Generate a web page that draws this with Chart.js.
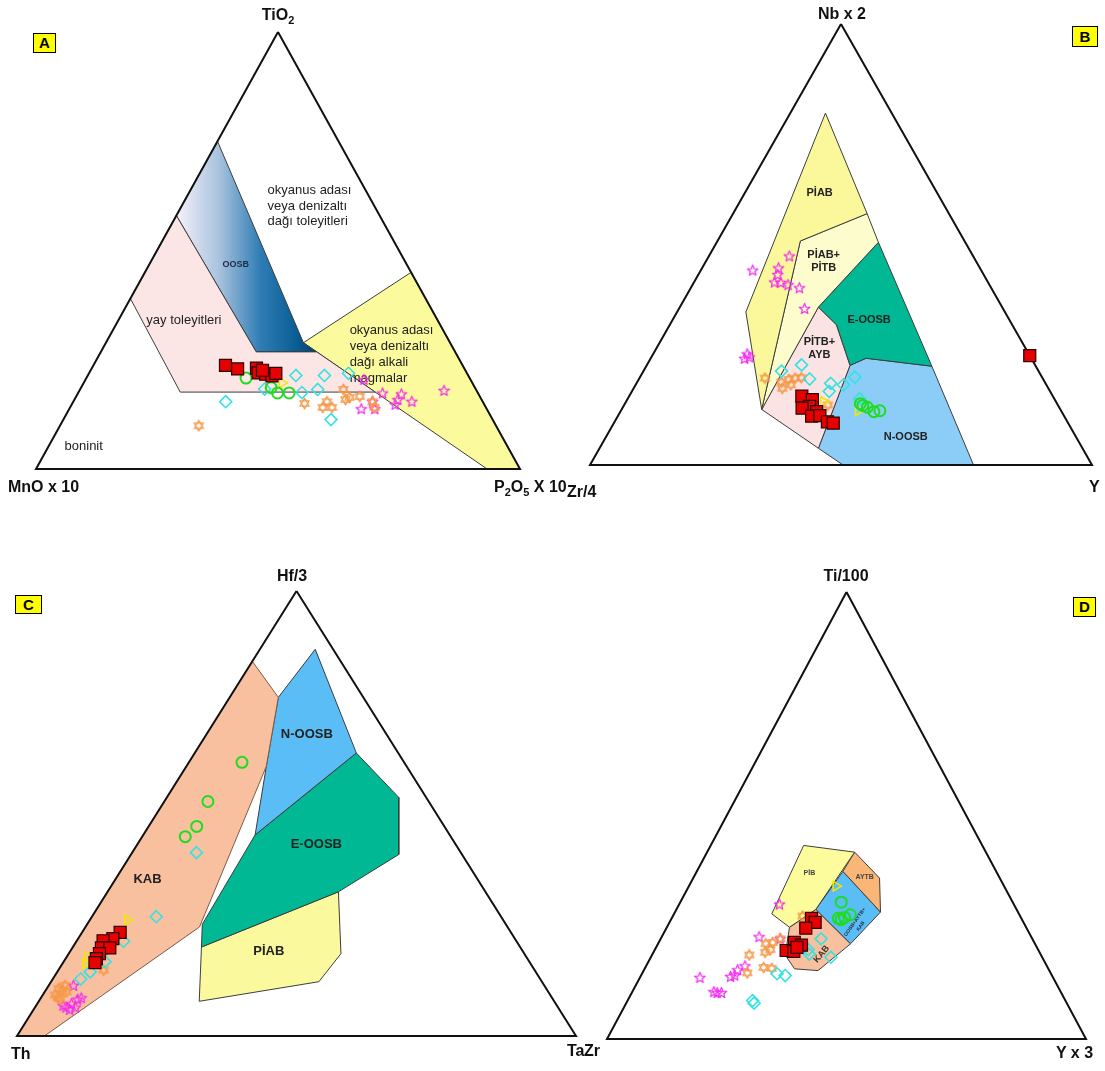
<!DOCTYPE html>
<html>
<head>
<meta charset="utf-8">
<script src="https://cdn.jsdelivr.net/npm/chart.js@4.4.0/dist/chart.umd.min.js"></script>
<style>
  body { margin: 0; background: #fff; width: 1105px; height: 1071px; position: relative; overflow: hidden;
         font-family: "Liberation Sans", Arial, sans-serif; }
  canvas { position: absolute; }
  .vlabel { position: absolute; font-weight: bold; font-size: 16px; color: #111; white-space: nowrap; line-height: 1; }
  .vlabel sub { font-size: 11px; vertical-align: -4px; line-height: 0; }
  .tag { position: absolute; background: #ffff00; border: 1px solid #000; font-weight: bold; font-size: 15px;
         text-align: center; box-sizing: border-box; color: #000; }
</style>
</head>
<body>
<canvas id="chartA"></canvas>
<canvas id="chartB"></canvas>
<canvas id="chartC"></canvas>
<canvas id="chartD"></canvas>

<div class="vlabel" style="left:278px;top:7px;transform:translateX(-50%)">TiO<sub>2</sub></div>
<div class="vlabel" style="left:8px;top:479px">MnO x 10</div>
<div class="vlabel" style="left:494px;top:479px">P<sub>2</sub>O<sub>5</sub> X 10</div>
<div class="vlabel" style="left:842px;top:6px;transform:translateX(-50%)">Nb x 2</div>
<div class="vlabel" style="left:567px;top:484px">Zr/4</div>
<div class="vlabel" style="left:1089px;top:479px">Y</div>
<div class="vlabel" style="left:292px;top:568px;transform:translateX(-50%)">Hf/3</div>
<div class="vlabel" style="left:11px;top:1046px">Th</div>
<div class="vlabel" style="left:567px;top:1043px">Ta</div>
<div class="vlabel" style="left:584px;top:1043px">Zr</div>
<div class="vlabel" style="left:846px;top:568px;transform:translateX(-50%)">Ti/100</div>
<div class="vlabel" style="left:1056px;top:1045px">Y x 3</div>

<div class="tag" style="left:33px;top:33px;width:23px;height:20px;line-height:18px">A</div>
<div class="tag" style="left:1072px;top:26px;width:26px;height:21px;line-height:19px">B</div>
<div class="tag" style="left:15px;top:595px;width:27px;height:19px;line-height:17px">C</div>
<div class="tag" style="left:1073px;top:597px;width:23px;height:20px;line-height:18px">D</div>

<script>
// Every composition is [top %, right %]; the left apex takes the remainder.

// A: TiO2 - MnO x 10 - P2O5 x 10
const aRed = [[23.7, 27.3], [22.9, 30.2], [23.1, 34.0], [22.0, 34.9], [21.7, 36.6], [21.3, 38.1], [21.9, 38.6], [22.6, 35.5]];
const aGreen = [[20.8, 33.0], [18.6, 39.3], [17.4, 41.2], [17.4, 43.6]];
const aYellow = [[19.7, 41.0]];
const aCyan = [[15.4, 31.5], [21.4, 43.0], [21.4, 48.9], [21.9, 53.6], [18.3, 38.1], [17.5, 46.2], [18.2, 49.1], [11.3, 55.3]];
const aOrange = [[9.9, 28.7], [15.0, 48.0], [14.1, 52.2], [14.1, 54.1], [15.4, 52.4], [18.2, 54.4], [15.9, 56.0], [16.4, 56.6], [16.6, 58.6], [15.4, 61.8], [14.1, 62.9]];
const aMagenta = [[13.8, 60.3], [13.8, 63.1], [15.5, 61.8], [17.4, 62.9], [14.8, 66.8], [15.9, 66.8], [17.2, 66.9], [15.5, 69.9], [18.0, 75.3], [20.5, 57.5]];
const aArcField = [[58, 0], [39, 0], [17.6, 21.0], [17.6, 61.3], [26.8, 44.6], [26.8, 32.1]];
const aOosbField = [[75, 0], [58, 0], [26.8, 32.1], [26.8, 44.6], [28.9, 40.8]];
const aAlkaliField = [[28.9, 40.8], [45, 55], [0, 100], [0, 93.2]];

// B: Nb x 2 - Zr/4 - Y
const bRed = [[15.6, 34.4], [14.8, 36.9], [13.3, 37.1], [12.9, 35.8], [12.1, 39.1], [11.1, 38.6], [11.2, 40.2], [9.8, 42.4], [9.5, 43.7], [24.8, 75.2]];
const bGreen = [[13.5, 47.6], [13.1, 48.7], [12.1, 50.5], [12.3, 51.6], [13.9, 46.9]];
const bYellow = [[12.3, 47.3], [14.4, 39.3]];
const bCyan = [[21.3, 27.5], [22.7, 30.8], [19.5, 34.0], [18.5, 38.7], [16.7, 39.3], [18.2, 41.4], [19.9, 42.8], [15.0, 46.2]];
const bOrange = [[19.7, 25.0], [18.8, 28.7], [19.4, 29.9], [19.7, 31.0], [19.8, 32.2], [17.4, 29.6], [18.2, 30.9], [13.6, 40.6]];
const bMagenta = [[47.4, 16.0], [44.2, 10.3], [44.7, 15.2], [43.2, 15.8], [41.5, 16.0], [41.4, 17.3], [40.9, 19.0], [40.2, 21.6], [35.5, 25.0], [25.2, 18.7], [24.2, 18.7], [24.5, 19.5]];
const bPiabField = [[79.8, 7.0], [57.0, 26.7], [50.8, 16.5], [12.6, 27.9], [34.7, 13.7]];
const bPiabPitbField = [[50.8, 16.5], [57.0, 26.7], [50.5, 32.2], [35.8, 27.6], [12.6, 27.9]];
const bEoosbField = [[35.8, 27.6], [50.5, 32.2], [22.4, 56.9], [24.2, 42.9], [22.6, 40.5], [31.8, 33.2]];
const bPitbAybField = [[35.8, 27.6], [31.8, 33.2], [22.6, 40.5], [3.8, 43.6], [12.6, 27.9]];
const bNoosbField = [[22.6, 40.5], [24.2, 42.9], [22.4, 56.9], [0, 76.4], [0, 50.4], [3.8, 43.6]];

// C: Hf/3 - Th - Ta
const cRed = [[23.3, 6.8], [21.9, 6.2], [21.4, 4.7], [19.8, 5.2], [19.8, 6.7], [18.5, 5.5], [17.4, 5.5], [16.5, 5.7]];
const cGreen = [[61.5, 9.5], [52.7, 7.8], [47.1, 8.6], [44.8, 7.7]];
const cYellow = [[26.1, 6.7], [16.3, 4.1], [17.8, 3.8]];
const cCyan = [[41.2, 11.5], [26.8, 11.5], [21.3, 8.4], [16.7, 7.4], [14.4, 5.9], [12.8, 5.0]];
const cOrange = [[10.7, 2.1], [11.4, 2.9], [9.2, 2.2], [8.3, 3.6], [9.9, 3.9], [10.3, 3.0], [14.8, 8.1], [8.6, 3.0]];
const cMagenta = [[6.5, 5.5], [7.3, 6.1], [8.3, 6.7], [6.0, 6.4], [6.9, 4.8], [11.4, 4.4], [6.5, 7.2], [8.6, 7.2]];
const cKabField = [[84.2, 0], [76.1, 8.7], [60.6, 14.3], [24.5, 20.4], [0, 4.9], [0, 0]];
const cNoosbField = [[86.9, 9.9], [63.6, 28.9], [45.2, 20.0], [60.6, 14.3], [76.1, 8.7]];
const cEoosbField = [[63.6, 28.9], [53.6, 41.5], [40.8, 47.9], [32.4, 41.3], [20.0, 23.0], [25.1, 20.6], [45.2, 20.0]];
const cPiabField = [[20.0, 23.0], [32.4, 41.3], [18.5, 48.7], [12.2, 47.9], [7.8, 28.7]];

// D: Ti/100 - Zr - Y x 3
const dRed = [[27.0, 29.2], [26.1, 30.4], [24.8, 29.1], [21.6, 28.3], [21.0, 30.1], [19.8, 27.5], [19.6, 29.2], [20.5, 29.4]];
const dGreen = [[30.6, 33.6], [27.0, 34.8], [27.2, 36.0], [27.8, 36.9], [26.7, 35.5]];
const dYellow = [[34.2, 30.7]];
const dCyan = [[22.4, 33.5], [18.3, 37.6], [19.0, 32.7], [14.6, 28.2], [14.2, 30.1], [8.0, 26.7], [8.6, 26.1], [20.0, 32.0]];
const dOrange = [[27.5, 27.1], [21.3, 22.5], [21.6, 23.8], [22.4, 25.0], [19.4, 23.3], [20.0, 24.1], [18.8, 20.3], [14.8, 21.9], [16.0, 24.7], [15.8, 26.5]];
const dMagenta = [[30.2, 20.9], [22.9, 20.3], [22.5, 24.9], [13.8, 12.5], [14.0, 18.8], [14.3, 19.5], [15.5, 19.5], [16.4, 20.6], [10.4, 17.8], [10.4, 18.7], [10.6, 17.0]];
const dPibField = [[43.3, 19.4], [41.8, 30.8], [29.0, 29.1], [25.0, 25.6], [28.0, 20.4]];
const dAytbField = [[41.8, 30.8], [36.0, 38.9], [28.4, 42.9], [37.5, 30.5]];
const dMixField = [[37.5, 30.5], [28.4, 42.9], [21.3, 40.2], [29.0, 29.1]];
const dKabField = [[29.0, 29.1], [21.3, 40.2], [15.3, 36.4], [15.7, 31.3], [18.8, 27.8], [25.0, 25.6]];

// ternary -> cartesian inside a unit (0..100) triangle
const toXY = ([t, r]) => ({ x: r + t / 2, y: t });

function glyph(size, color, draw) {
  const c = document.createElement('canvas');
  c.width = c.height = size;
  const g = c.getContext('2d');
  g.strokeStyle = color;
  g.lineWidth = 1.2;
  g.lineJoin = 'round';
  draw(g, size / 2, size / 2);
  return c;
}

const hexagram = glyph(13, '#f5994a', (g, cx, cy) => {
  const R = 5.4;
  [-90, 90].forEach(a0 => {
    g.beginPath();
    for (let k = 0; k < 3; k++) {
      const a = (a0 + k * 120) * Math.PI / 180;
      g[k ? 'lineTo' : 'moveTo'](cx + R * Math.cos(a), cy + R * Math.sin(a));
    }
    g.closePath();
    g.stroke();
  });
});

const star5 = glyph(13, '#f22cf0', (g, cx, cy) => {
  g.beginPath();
  for (let k = 0; k < 10; k++) {
    const a = (-90 + k * 36) * Math.PI / 180;
    const R = k % 2 ? 2.4 : 5.6;
    g[k ? 'lineTo' : 'moveTo'](cx + R * Math.cos(a), cy + 0.5 + R * Math.sin(a));
  }
  g.closePath();
  g.stroke();
});

const markerStyle = {
  red:     { pointStyle: 'rect', pointRadius: 8.5, pointBackgroundColor: '#e60000', pointBorderColor: '#2a0000', pointBorderWidth: 1.2, order: 1 },
  green:   { pointStyle: 'circle', pointRadius: 5.5, pointBackgroundColor: 'rgba(0,0,0,0)', pointBorderColor: '#1fdc1f', pointBorderWidth: 2, order: 2 },
  yellow:  { pointStyle: 'triangle', pointRotation: 90, pointRadius: 5.5, pointBackgroundColor: 'rgba(0,0,0,0)', pointBorderColor: '#efe800', pointBorderWidth: 1.6, order: 3 },
  cyan:    { pointStyle: 'rectRot', pointRadius: 6, pointBackgroundColor: 'rgba(0,0,0,0)', pointBorderColor: '#33e2e2', pointBorderWidth: 1.6, order: 4 },
  orange:  { pointStyle: hexagram, pointRadius: 5, order: 5 },
  magenta: { pointStyle: star5, pointRadius: 5, order: 6 }
};

function field(points, color, extra) {
  const data = points.map(toXY);
  data.push(data[0]);
  return Object.assign({
    data, showLine: true, fill: 'shape', backgroundColor: color,
    borderColor: '#3c3c3c', borderWidth: 1, pointRadius: 0, order: 20
  }, extra);
}

function markers(points, kind) {
  return Object.assign({ data: points.map(toXY), showLine: false }, markerStyle[kind]);
}

// region names, drawn right after the triangle frame so markers sit on top
const fieldText = {
  id: 'fieldText',
  afterDatasetDraw(chart, args, opts) {
    if (chart.data.datasets[args.index].label !== 'frame') return;
    const { ctx, scales: { x, y } } = chart;
    (opts.items || []).forEach(it => {
      const px = x.getPixelForValue(it.at[1] + it.at[0] / 2);
      const py = y.getPixelForValue(it.at[0]);
      ctx.save();
      ctx.translate(px, py);
      ctx.rotate((it.rotate || 0) * Math.PI / 180);
      ctx.font = it.font;
      ctx.fillStyle = it.color || '#222';
      ctx.textAlign = it.align || 'center';
      ctx.textBaseline = 'middle';
      const shift = it.align === 'left' ? 0 : (it.lines.length - 1) / 2;
      it.lines.forEach((s, i) => ctx.fillText(s, 0, (i - shift) * (it.lh || 14)));
      ctx.restore();
    });
  }
};

function ternaryChart(id, box, tri, datasets, labels) {
  const [cx, cy, cw, ch] = box;
  const { apexY, leftX, rightX, baseY } = tri;
  const kx = (rightX - leftX) / 100;
  const ky = (baseY - apexY) / 100;
  const canvas = document.getElementById(id);
  canvas.width = cw;
  canvas.height = ch;
  canvas.style.left = cx + 'px';
  canvas.style.top = cy + 'px';
  const frame = field([[100, 0], [0, 0], [0, 100]], 'rgba(0,0,0,0)',
    { fill: false, borderColor: '#111', borderWidth: 2, order: 10, label: 'frame' });
  return new Chart(canvas, {
    type: 'scatter',
    data: { datasets: [...datasets, frame] },
    options: {
      responsive: false,
      devicePixelRatio: 1,
      animation: false,
      events: [],
      layout: { padding: 0, autoPadding: false },
      elements: { line: { tension: 0 } },
      scales: {
        x: { type: 'linear', display: false, min: (cx - leftX) / kx, max: (cx + cw - leftX) / kx },
        y: { type: 'linear', display: false, min: (baseY - cy - ch) / ky, max: (baseY - cy) / ky }
      },
      plugins: { legend: { display: false }, tooltip: { enabled: false }, fieldText: { items: labels } }
    },
    plugins: [fieldText]
  });
}

// OOSB band in A is shaded from pale lavender to deep blue
function oosbGradient(context) {
  const chart = context.chart;
  const x = chart.scales && chart.scales.x;
  if (!x || !chart.chartArea) return '#2a6fa8';
  const g = chart.ctx.createLinearGradient(x.getPixelForValue(29), 0, x.getPixelForValue(58), 0);
  g.addColorStop(0, '#f6f2fa');
  g.addColorStop(0.3, '#a9c3de');
  g.addColorStop(0.6, '#2f7db4');
  g.addColorStop(0.85, '#0a5e96');
  g.addColorStop(1, '#034272');
  return g;
}

const regionFont = '13px "Liberation Sans", Arial, sans-serif';
const boldFont = px => `bold ${px}px "Liberation Sans", Arial, sans-serif`;

ternaryChart('chartA', [0, 0, 556, 530], { apexY: 32, leftX: 36, rightX: 520, baseY: 469 }, [
  field(aArcField, '#fce5e5'),
  field(aOosbField, oosbGradient),
  field(aAlkaliField, '#fbfb9e'),
  markers(aRed, 'red'), markers(aGreen, 'green'), markers(aYellow, 'yellow'),
  markers(aCyan, 'cyan'), markers(aOrange, 'orange'), markers(aMagenta, 'magenta')
], [
  { at: [63.7, 16.0], lines: ['okyanus adası', 'veya denizaltı', 'dağı toleyitleri'], align: 'left', font: regionFont, lh: 15.5 },
  { at: [46.9, 17.8], lines: ['OOSB'], font: boldFont(9), color: '#1c2c46' },
  { at: [34.0, 5.8], lines: ['yay toleyitleri'], align: 'left', font: regionFont },
  { at: [31.6, 49.0], lines: ['okyanus adası', 'veya denizaltı', 'dağı alkali', 'magmalar'], align: 'left', font: regionFont, lh: 16 },
  { at: [5.2, 3.3], lines: ['boninit'], align: 'left', font: regionFont }
]);

ternaryChart('chartB', [556, 0, 549, 530], { apexY: 24, leftX: 590, rightX: 1092, baseY: 465 }, [
  field(bPiabField, '#fbf89c'),
  field(bPiabPitbField, '#fdfccc'),
  field(bEoosbField, '#00b894'),
  field(bPitbAybField, '#fbe3e3'),
  field(bNoosbField, '#8ccdf8'),
  markers(bRed, 'red'), markers(bGreen, 'green'), markers(bYellow, 'yellow'),
  markers(bCyan, 'cyan'), markers(bOrange, 'orange'), markers(bMagenta, 'magenta')
], [
  { at: [61.7, 14.9], lines: ['PİAB'], font: boldFont(11) },
  { at: [46.1, 23.5], lines: ['PİAB+', 'PİTB'], font: boldFont(11), lh: 13 },
  { at: [32.8, 39.2], lines: ['E-OOSB'], font: boldFont(11) },
  { at: [26.4, 32.5], lines: ['PİTB+', 'AYB'], font: boldFont(11), lh: 13 },
  { at: [6.4, 59.7], lines: ['N-OOSB'], font: boldFont(11) }
]);

ternaryChart('chartC', [0, 530, 592, 541], { apexY: 591, leftX: 17, rightX: 576, baseY: 1036 }, [
  field(cKabField, '#f9c09f', { borderColor: '#7a5a48' }),
  field(cNoosbField, '#5bbdf6'),
  field(cEoosbField, '#00b894'),
  field(cPiabField, '#fbf99d'),
  markers(cRed, 'red'), markers(cGreen, 'green'), markers(cYellow, 'yellow'),
  markers(cCyan, 'cyan'), markers(cOrange, 'orange'), markers(cMagenta, 'magenta')
], [
  { at: [35.1, 5.8], lines: ['KAB'], font: boldFont(13) },
  { at: [67.7, 18.0], lines: ['N-OOSB'], font: boldFont(13) },
  { at: [43.1, 32.0], lines: ['E-OOSB'], font: boldFont(13) },
  { at: [18.9, 35.6], lines: ['PİAB'], font: boldFont(13) }
]);

ternaryChart('chartD', [592, 530, 513, 541], { apexY: 592, leftX: 607, rightX: 1086, baseY: 1039 }, [
  field(dPibField, '#fcfc9c'),
  field(dAytbField, '#fab676'),
  field(dMixField, '#5bbdf6'),
  field(dKabField, '#f9c09f'),
  markers(dRed, 'red'), markers(dGreen, 'green'), markers(dYellow, 'yellow'),
  markers(dCyan, 'cyan'), markers(dOrange, 'orange'), markers(dMagenta, 'magenta')
], [
  { at: [37.1, 23.7], lines: ['PİB'], font: boldFont(7), color: '#444' },
  { at: [36.2, 35.7], lines: ['AYTB'], font: boldFont(7), color: '#444' },
  { at: [25.7, 39.5], lines: ['OOSB+AYTB+', 'KAB'], font: boldFont(5), color: '#1c2c46', rotate: -55, lh: 7 },
  { at: [19.0, 35.3], lines: ['KAB'], font: boldFont(9), color: '#333', rotate: -50 }
]);
</script>
</body>
</html>
